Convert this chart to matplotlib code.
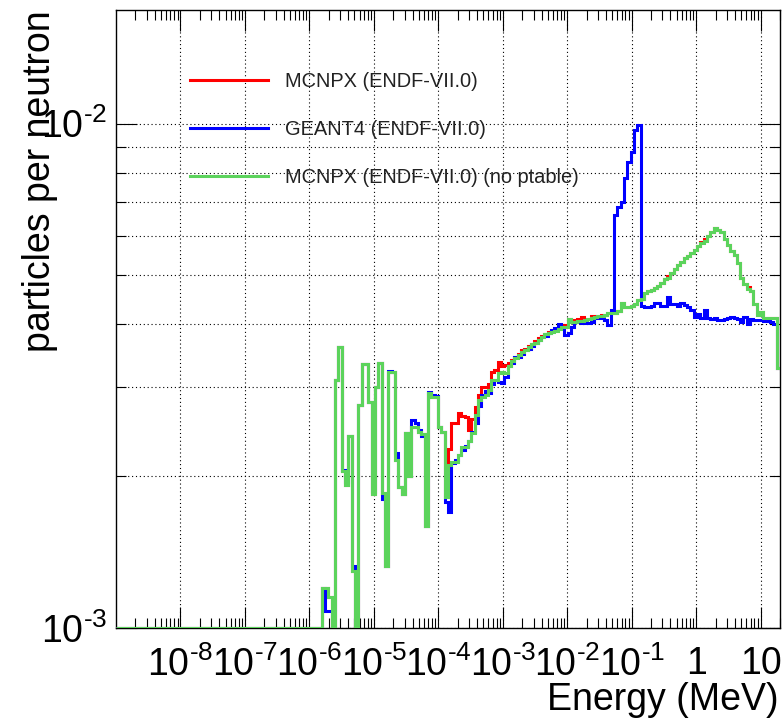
import numpy as np
import matplotlib
matplotlib.use('Agg')
import matplotlib.pyplot as plt
from matplotlib.lines import Line2D
from matplotlib.ticker import LogLocator, NullFormatter, FixedLocator

plt.rcParams['font.family'] = ['Liberation Sans', 'DejaVu Sans']
plt.rcParams['mathtext.fontset'] = 'custom'
plt.rcParams['mathtext.rm'] = 'Liberation Sans'
plt.rcParams['mathtext.it'] = 'Liberation Sans:italic'
plt.rcParams['mathtext.bf'] = 'Liberation Sans:bold'

# histogram binning: 200 log bins, 1e-9 .. 20 MeV
n_bins = 200
e_min, e_max = 1e-9, 20.0
y_min, y_max = 1e-3, 0.0168

# bins 0..60 are empty, values below are for bins 61..199 (units of 1e-3)
n_empty = 61

mcnpx = [
    0, 1.2, 1.2, 1.15, 0, 3.1, 3.6, 2.05, 1.92, 2.4,
    1.3, 0, 2.77, 3.34, 3.34, 2.8, 1.84, 3.0, 3.36, 1.85,
    1.33, 3.22, 3.22, 2.15, 1.9, 1.84, 2.44, 2.0, 2.5, 2.5,
    2.45, 2.42, 1.59, 2.92, 2.87, 2.87, 2.5, 2.45, 1.82, 2.26,
    2.55, 2.55, 2.67, 2.63, 2.62, 2.47, 2.6, 2.74, 2.9, 3.0,
    3.0, 3.05, 3.22, 3.25, 3.37, 3.3, 3.32, 3.35, 3.4, 3.45,
    3.5, 3.55, 3.57, 3.62, 3.66, 3.7, 3.75, 3.8, 3.83, 3.87,
    3.88, 3.9, 3.94, 3.98, 3.98, 4.1, 4.08, 4.08, 4.1, 4.13,
    4.1, 4.1, 4.15, 4.14, 4.15, 4.17, 4.18, 4.21, 4.22, 4.22,
    4.25, 4.4, 4.33, 4.33, 4.35, 4.38, 4.48, 4.5, 4.62, 4.65,
    4.68, 4.72, 4.76, 4.82, 4.92, 4.98, 5.05, 5.15, 5.25, 5.32,
    5.42, 5.47, 5.55, 5.62, 5.72, 5.83, 5.9, 5.98, 6.1, 6.22,
    6.15, 6.1, 5.9, 5.75, 5.6, 5.5, 5.3, 4.95, 4.8, 4.75,
    4.65, 4.38, 4.18, 4.23, 4.12, 4.12, 4.12, 4.12, 3.28,
]

geant4 = [
    0, 1.2, 1.08, 1.08, 0, 3.1, 3.6, 2.06, 1.95, 2.4,
    1.33, 0, 2.77, 3.34, 3.34, 2.8, 1.86, 3.0, 3.36, 1.8,
    1.33, 3.24, 3.22, 2.22, 1.9, 1.84, 2.44, 2.0, 2.58, 2.55,
    2.47, 2.4, 1.59, 2.94, 2.9, 2.88, 2.5, 2.45, 1.78, 1.7,
    2.12, 2.15, 2.2, 2.25, 2.3, 2.35, 2.45, 2.55, 2.75, 2.9,
    2.95, 2.93, 3.05, 3.1, 3.08, 3.06, 3.15, 3.3, 3.35, 3.45,
    3.45, 3.5, 3.55, 3.58, 3.62, 3.68, 3.72, 3.78, 3.8, 3.85,
    3.9, 3.94, 4.0, 3.94, 3.81, 3.85, 3.96, 4.05, 4.05, 4.03,
    4.03, 4.03, 4.05, 4.12, 4.12, 4.12, 4.08, 3.98, 4.27, 6.6,
    6.85, 7.0, 7.8, 8.4, 8.8, 9.7, 9.95, 4.35, 4.32, 4.32,
    4.34, 4.4, 4.4, 4.34, 4.34, 4.54, 4.38, 4.38, 4.34, 4.4,
    4.36, 4.32, 4.27, 4.14, 4.2, 4.12, 4.27, 4.12, 4.1, 4.12,
    4.08, 4.08, 4.1, 4.12, 4.14, 4.12, 4.1, 4.05, 4.14, 4.0,
    4.1, 4.08, 4.08, 4.08, 4.06, 4.06, 4.05, 4.0, 3.28,
]

mcnpx_noptable = [
    0, 1.2, 1.2, 1.15, 0, 3.1, 3.6, 2.05, 1.92, 2.4,
    1.3, 0, 2.77, 3.34, 3.34, 2.8, 1.84, 3.0, 3.36, 1.85,
    1.33, 3.22, 3.22, 2.15, 1.9, 1.84, 2.44, 2.0, 2.5, 2.5,
    2.45, 2.42, 1.59, 2.92, 2.87, 2.87, 2.5, 2.45, 1.82, 2.1,
    2.13, 2.13, 2.2, 2.28, 2.28, 2.35, 2.44, 2.64, 2.83, 2.87,
    2.9, 2.96, 3.1, 3.1, 3.2, 3.22, 3.2, 3.3, 3.38, 3.43,
    3.48, 3.52, 3.55, 3.6, 3.65, 3.68, 3.73, 3.78, 3.82, 3.85,
    3.87, 3.88, 3.92, 3.96, 3.96, 4.1, 4.05, 4.05, 4.06, 4.07,
    4.08, 4.1, 4.12, 4.14, 4.15, 4.16, 4.18, 4.21, 4.21, 4.22,
    4.25, 4.4, 4.33, 4.33, 4.35, 4.38, 4.48, 4.5, 4.62, 4.65,
    4.68, 4.72, 4.76, 4.82, 4.92, 4.95, 5.05, 5.15, 5.25, 5.32,
    5.42, 5.47, 5.55, 5.62, 5.72, 5.8, 5.85, 5.98, 6.1, 6.22,
    6.15, 6.1, 5.9, 5.75, 5.6, 5.5, 5.3, 4.95, 4.8, 4.7,
    4.65, 4.38, 4.18, 4.23, 4.12, 4.12, 4.12, 4.12, 3.28,
]

labels = ['MCNPX (ENDF-VII.0)', 'GEANT4 (ENDF-VII.0)', 'MCNPX (ENDF-VII.0) (no ptable)']
colors = ['#ff0000', '#0000ff', '#5cd35c']

xtick_vals = [1e-8, 1e-7, 1e-6, 1e-5, 1e-4, 1e-3, 1e-2, 1e-1, 1, 10]
xtick_labels = [r'$10^{\text{-}8}$', r'$10^{\text{-}7}$', r'$10^{\text{-}6}$',
                r'$10^{\text{-}5}$', r'$10^{\text{-}4}$', r'$10^{\text{-}3}$',
                r'$10^{\text{-}2}$', r'$10^{\text{-}1}$', '1', '10']
ytick_vals = [1e-3, 1e-2]
ytick_labels = [r'$10^{\text{-}3}$', r'$10^{\text{-}2}$']


def full(vals):
    v = np.concatenate([np.zeros(n_empty), np.array(vals) * 1e-3])
    # ROOT draws empty / underflowing bins on the frame
    return np.maximum(v, y_min)


edges = np.logspace(np.log10(e_min), np.log10(e_max), n_bins + 1)

fig = plt.figure(figsize=(7.84, 7.23), dpi=100)
ax = fig.add_axes([116 / 784, 95 / 723, 664 / 784, 618 / 723])
ax.set_xscale('log')
ax.set_yscale('log')

lw = 2.2
for vals, c in zip([mcnpx, geant4, mcnpx_noptable], colors):
    ax.stairs(full(vals), edges, baseline=None, color=c, lw=lw, zorder=3)

ax.set_xlim(e_min, e_max)
ax.set_ylim(y_min, y_max)

ax.xaxis.set_major_locator(FixedLocator(xtick_vals))
ax.set_xticklabels(xtick_labels)
ax.xaxis.set_minor_locator(LogLocator(base=10, subs=np.arange(2, 10), numticks=100))
ax.xaxis.set_minor_formatter(NullFormatter())
ax.yaxis.set_major_locator(FixedLocator(ytick_vals))
ax.set_yticklabels(ytick_labels)
ax.yaxis.set_minor_locator(LogLocator(base=10, subs=np.arange(2, 10), numticks=100))
ax.yaxis.set_minor_formatter(NullFormatter())

ax.tick_params(which='both', direction='in', top=True, right=True, width=0.8)
ax.tick_params(which='major', length=15)
ax.tick_params(which='minor', length=7.5)
ax.tick_params(axis='x', labelsize=27, pad=13)
ax.tick_params(axis='y', labelsize=27, pad=6)

ax.grid(True, axis='x', which='major', color='k', ls=(0, (1, 2.5)), lw=0.8)
ax.grid(True, axis='y', which='both', color='k', ls=(0, (1, 2.5)), lw=0.8)
for s in ax.spines.values():
    s.set_linewidth(1.0)

handles = [Line2D([], [], color=c, lw=lw) for c in colors]
ax.legend(handles, labels, loc='upper left', bbox_to_anchor=(74 / 664, 0.899),
          frameon=False, fontsize=14.4, handlelength=3.9, handletextpad=0.85,
          labelspacing=1.45, borderpad=0, borderaxespad=0, labelcolor='#222222')

fig.text(779 / 784, 1 - 710 / 723, 'Energy (MeV)', ha='right', va='baseline', fontsize=27)
fig.text(40 / 784, 1 - 10 / 723, 'particles per neutron', rotation=90,
         ha='center', va='top', fontsize=27)

fig.savefig('out.png', dpi=100)
